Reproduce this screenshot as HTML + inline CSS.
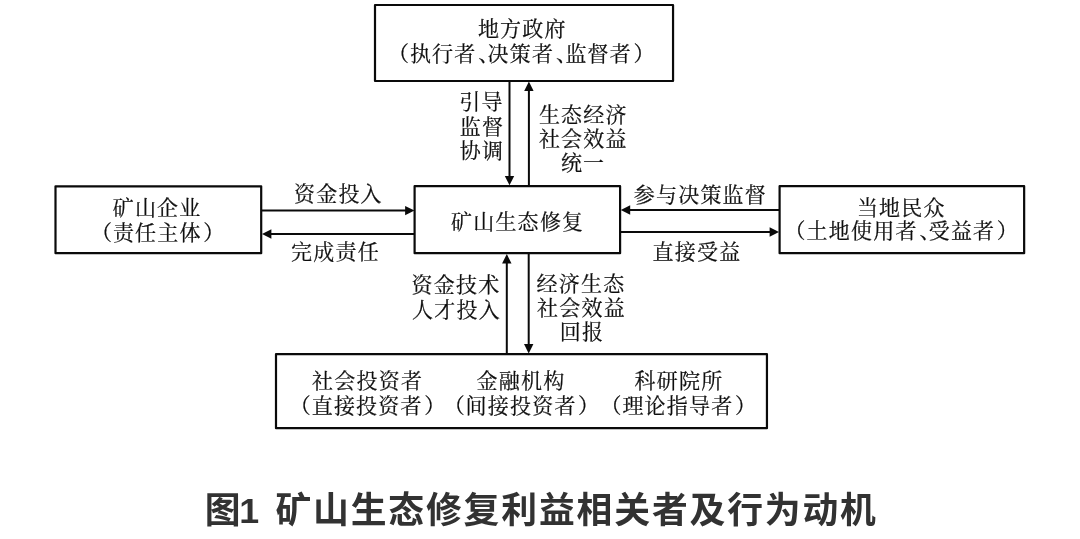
<!DOCTYPE html>
<html lang="zh-CN"><head><meta charset="utf-8"><title>图1 矿山生态修复利益相关者及行为动机</title>
<style>
html,body{margin:0;padding:0;background:#fff;}
body{width:1080px;height:539px;overflow:hidden;}
svg{display:block;}
.t{font-family:'Liberation Serif','Noto Serif CJK SC',serif;font-size:21.0px;fill:#0d0d0d;stroke:#0d0d0d;stroke-width:0.22px;}
.cap{font-family:'Liberation Sans','Noto Sans CJK SC',sans-serif;font-weight:700;fill:#333;}
.bx{fill:none;stroke:#0a0a0a;stroke-width:2.2;stroke-linejoin:round;}
.ln{fill:none;stroke:#0a0a0a;stroke-width:2;}
.hd{fill:#0a0a0a;stroke:none;}
</style></head><body>
<svg width="1080" height="539" viewBox="0 0 1080 539">
<defs><filter id="soft" x="0" y="0" width="1080" height="539" filterUnits="userSpaceOnUse"><feGaussianBlur stdDeviation="0.45"/></filter></defs>
<rect class="bx" x="375.00" y="5.00" width="298.05" height="76.00"/>
<rect class="bx" x="55.50" y="186.30" width="205.70" height="66.85"/>
<rect class="bx" x="414.60" y="186.20" width="205.50" height="67.00"/>
<rect class="bx" x="779.60" y="186.20" width="244.55" height="67.00"/>
<rect class="bx" x="276.00" y="354.20" width="490.95" height="74.00"/>
<line class="ln" x1="509.50" y1="82.00" x2="509.50" y2="176.90"/>
<polygon class="hd" points="509.50,185.30 504.80,175.90 514.20,175.90"/>
<line class="ln" x1="528.90" y1="185.00" x2="528.90" y2="89.90"/>
<polygon class="hd" points="528.90,81.50 533.60,90.90 524.20,90.90"/>
<line class="ln" x1="506.80" y1="353.00" x2="506.80" y2="262.40"/>
<polygon class="hd" points="506.80,254.00 511.50,263.40 502.10,263.40"/>
<line class="ln" x1="528.70" y1="254.00" x2="528.70" y2="345.10"/>
<polygon class="hd" points="528.70,353.50 524.00,344.10 533.40,344.10"/>
<line class="ln" x1="262.00" y1="210.60" x2="406.10" y2="210.60"/>
<polygon class="hd" points="414.50,210.60 405.10,215.30 405.10,205.90"/>
<line class="ln" x1="414.00" y1="234.00" x2="270.40" y2="234.00"/>
<polygon class="hd" points="262.00,234.00 271.40,229.30 271.40,238.70"/>
<line class="ln" x1="779.00" y1="210.00" x2="629.20" y2="210.00"/>
<polygon class="hd" points="620.80,210.00 630.20,205.30 630.20,214.70"/>
<line class="ln" x1="621.00" y1="232.00" x2="770.60" y2="232.00"/>
<polygon class="hd" points="779.00,232.00 769.60,236.70 769.60,227.30"/>
<g class="t" filter="url(#soft)">
<text x="477.9 500.1 522.3 544.5" y="36.4">地方政府</text>
<text x="388.1 409.9 432.1 454.3 478.3 487.6 509.8 532.0 556.0 565.4 587.6 609.8 633.5" y="61.4">（执行者、决策者、监督者）</text>
<text x="459.3 481.5" y="108.8">引导</text>
<text x="459.8 482.0" y="133.8">监督</text>
<text x="459.8 482.0" y="158.3">协调</text>
<text x="538.9 561.1 583.3 605.5" y="121.8">生态经济</text>
<text x="538.9 561.1 583.3 605.5" y="146.3">社会效益</text>
<text x="560.9 583.1" y="169.9">统一</text>
<text x="112.8 134.9 157.1 179.3" y="215.2">矿山企业</text>
<text x="91.0 112.9 135.1 157.3 179.5 203.2" y="240.2">（责任主体）</text>
<text x="294.0 316.2 338.4 360.6" y="200.7">资金投入</text>
<text x="291.1 313.3 335.5 357.7" y="259.1">完成责任</text>
<text x="451.0 473.2 495.4 517.6 539.9 562.1" y="228.6">矿山生态修复</text>
<text x="633.8 656.0 678.2 700.4 722.6 744.8" y="201.6">参与决策监督</text>
<text x="652.5 674.8 697.0 719.2" y="259.1">直接受益</text>
<text x="856.9 879.1 901.3 923.5" y="215.2">当地民众</text>
<text x="784.6 806.6 828.8 851.0 873.2 895.4 919.4 928.7 950.9 973.1 996.8" y="238.4">（土地使用者、受益者）</text>
<text x="411.6 433.8 456.0 478.2" y="291.9">资金技术</text>
<text x="412.1 434.3 456.5 478.7" y="316.9">人才投入</text>
<text x="536.5 558.8 581.0 603.2" y="291.4">经济生态</text>
<text x="537.0 559.2 581.5 603.7" y="314.7">社会效益</text>
<text x="559.7 581.9" y="339.2">回报</text>
<text x="312.1 334.3 356.5 378.7 400.9" y="388.1">社会投资者</text>
<text x="289.8 311.7 333.9 356.1 378.3 400.5 424.2" y="413.1">（直接投资者）</text>
<text x="476.6 498.8 521.0 543.2" y="388.1">金融机构</text>
<text x="443.7 465.6 487.8 510.0 532.2 554.4 578.1" y="413.1">（间接投资者）</text>
<text x="634.6 656.8 679.0 701.2" y="388.1">科研院所</text>
<text x="600.5 622.4 644.6 666.8 689.0 711.2 734.9" y="413.1">（理论指导者）</text>
</g>
<text class="cap" filter="url(#soft)" x="204.7 239.3 257.3 275.4 313.0 350.7 388.3 426.0 463.6 501.3 539.0 576.6 614.2 651.9 689.5 727.2 764.8 802.5 840.1" y="522.6" font-size="35.8">图1 矿山生态修复利益相关者及行为动机</text>
</svg>
</body></html>
